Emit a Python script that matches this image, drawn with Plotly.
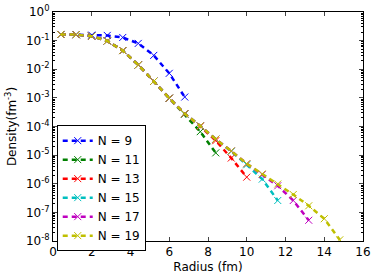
import plotly.graph_objects as go

radius_9 = [0.4, 1.2, 2.0, 2.8, 3.6, 4.4, 5.2, 6.0, 6.8]
density_9 = [0.164, 0.163, 0.156, 0.152, 0.129, 0.080, 0.0305, 0.0072, 0.00107]

radius_11 = [0.4, 1.2, 2.0, 2.8, 3.6, 4.4, 5.2, 6.0, 6.8, 7.6, 8.4]
density_11 = [0.164, 0.162, 0.143, 0.098, 0.045, 0.0142, 0.0038, 0.00097, 2.7e-4, 6.6e-5, 1.2e-5]

radius_13 = [0.4, 1.2, 2.0, 2.8, 3.6, 4.4, 5.2, 6.0, 6.8, 7.6, 8.4, 9.2, 10.0]
density_13 = [0.164, 0.162, 0.143, 0.098, 0.045, 0.0142, 0.0038, 0.00097, 2.8e-4, 1.02e-4, 3.2e-5, 7.9e-6, 1.7e-6]

radius_15 = [0.4, 1.2, 2.0, 2.8, 3.6, 4.4, 5.2, 6.0, 6.8, 7.6, 8.4, 9.2, 10.0, 10.8, 11.6]
density_15 = [0.164, 0.162, 0.143, 0.098, 0.045, 0.0142, 0.0038, 0.00097, 2.8e-4, 1.05e-4, 3.6e-5, 1.35e-5, 4.6e-6, 1.45e-6, 2.6e-7]

radius_17 = [0.4, 1.2, 2.0, 2.8, 3.6, 4.4, 5.2, 6.0, 6.8, 7.6, 8.4, 9.2, 10.0, 10.8, 11.6, 12.4, 13.2]
density_17 = [0.164, 0.162, 0.143, 0.098, 0.045, 0.0142, 0.0038, 0.00097, 2.8e-4, 1.05e-4, 3.6e-5, 1.4e-5, 5.0e-6, 2.1e-6, 8.5e-7, 2.6e-7, 5.3e-8]

radius_19 = [0.4, 1.2, 2.0, 2.8, 3.6, 4.4, 5.2, 6.0, 6.8, 7.6, 8.4, 9.2, 10.0, 10.8, 11.6, 12.4, 13.2, 14.0, 14.8]
density_19 = [0.164, 0.162, 0.143, 0.098, 0.045, 0.0142, 0.0038, 0.00097, 2.8e-4, 1.05e-4, 3.6e-5, 1.4e-5, 5.0e-6, 2.2e-6, 9.8e-7, 4.2e-7, 1.7e-7, 6.0e-8, 1.1e-8]

series_names = ["N = 9", "N = 11", "N = 13", "N = 15", "N = 17", "N = 19"]
series_colors = ["#0000ff", "#008000", "#ff0000", "#00bfbf", "#bf00bf", "#bfbf00"]

y_tick_vals = [1, 1e-1, 1e-2, 1e-3, 1e-4, 1e-5, 1e-6, 1e-7, 1e-8]
y_tick_text = ["10<sup>0</sup>", "10<sup>-1</sup>", "10<sup>-2</sup>", "10<sup>-3</sup>",
               "10<sup>-4</sup>", "10<sup>-5</sup>", "10<sup>-6</sup>", "10<sup>-7</sup>",
               "10<sup>-8</sup>"]
x_tick_vals = [0, 2, 4, 6, 8, 10, 12, 14, 16]

xs = [radius_9, radius_11, radius_13, radius_15, radius_17, radius_19]
ys = [density_9, density_11, density_13, density_15, density_17, density_19]

fig = go.Figure()
for x, y, name, color in zip(xs, ys, series_names, series_colors):
    fig.add_trace(go.Scatter(
        x=x, y=y, name=name, mode="lines+markers",
        line=dict(color=color, width=2.5, dash="5px,4px"),
        marker=dict(symbol="x-thin", size=7, line=dict(color=color, width=1), color=color),
    ))

FAM = "DejaVu Sans, Arial, sans-serif"
font = dict(family=FAM, size=12, color="black")
fig.update_layout(
    width=374, height=278,
    margin=dict(l=53, r=11, t=12, b=37),
    paper_bgcolor="white", plot_bgcolor="white",
    font=font,
    showlegend=True,
    legend=dict(
        x=0.012, y=0.506, xanchor="left", yanchor="top",
        bordercolor="black", borderwidth=1, bgcolor="white",
        font=dict(family=FAM, size=12, color="black"),
        tracegroupgap=0, itemwidth=30,
    ),
)
fig.update_xaxes(
    range=[0, 16], tickvals=x_tick_vals, ticks="inside", ticklen=4,
    showline=True, linecolor="black", linewidth=1, mirror="allticks",
    showgrid=False, zeroline=False, automargin=False,
    title=dict(text="Radius (fm)", standoff=4, font=font),
    tickfont=font,
)
fig.update_yaxes(
    type="log", range=[-8, 0], tickvals=y_tick_vals, ticktext=y_tick_text,
    ticks="inside", ticklen=4,
    minor=dict(ticks="inside", ticklen=2, dtick="D1", tickcolor="black", showgrid=False),
    showline=True, linecolor="black", linewidth=1, mirror="allticks",
    showgrid=False, zeroline=False, automargin=False,
    title=dict(text="Density(fm<sup>-3</sup>)", standoff=6, font=font),
    tickfont=font,
)

fig.write_html("out.html", config={"displayModeBar": False},
               post_script="document.body.style.margin='0';")
